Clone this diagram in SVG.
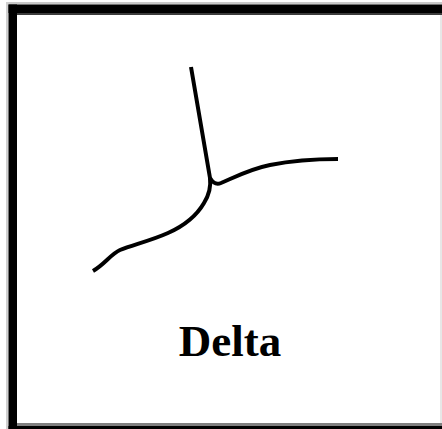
<svg xmlns="http://www.w3.org/2000/svg" width="442" height="429" viewBox="0 0 442 429">
  <style>
    .river { fill: none; stroke: #000; stroke-width: 4; stroke-linecap: butt; stroke-linejoin: round; }
    .label { font-family: "Liberation Serif", "Times New Roman", serif; font-weight: bold; font-size: 45px; fill: #000; }
  </style>
  <rect x="0" y="0" width="442" height="429" fill="#fff"/>
  <g id="frame">
    <rect x="6" y="2" width="436" height="2.5" fill="#c8c8c8"/>
    <rect x="6" y="2" width="2.5" height="427" fill="#d0d0d0"/>
    <rect x="8.5" y="4.5" width="433.5" height="8.5" fill="#000"/>
    <rect x="8.5" y="4.5" width="8.5" height="424.5" fill="#000"/>
    <rect x="17" y="13" width="425" height="2" fill="#3c3c3c"/>
    <rect x="17" y="423" width="425" height="3" fill="#808080"/>
    <rect x="8.5" y="426" width="433.5" height="3" fill="#000"/>
    <rect x="440.5" y="15" width="1" height="408" fill="#d0d0d0"/>
  </g>
  <g id="connectors">
    <path class="river" d="M191,67 L210,178 C211,186 209,195 204,203 C197,215 186,225 168,233 C150,241 132,245 120,250 C111,254 105,264 93,271"/>
    <path class="river" d="M210,178 C213,183 216,185 221,183 C235,177 250,169 270,165 C290,161 310,159 338,159"/>
  </g>
  <g id="label-delta">
    <text class="label" x="230" y="356" text-anchor="middle">Delta</text>
  </g>
</svg>
